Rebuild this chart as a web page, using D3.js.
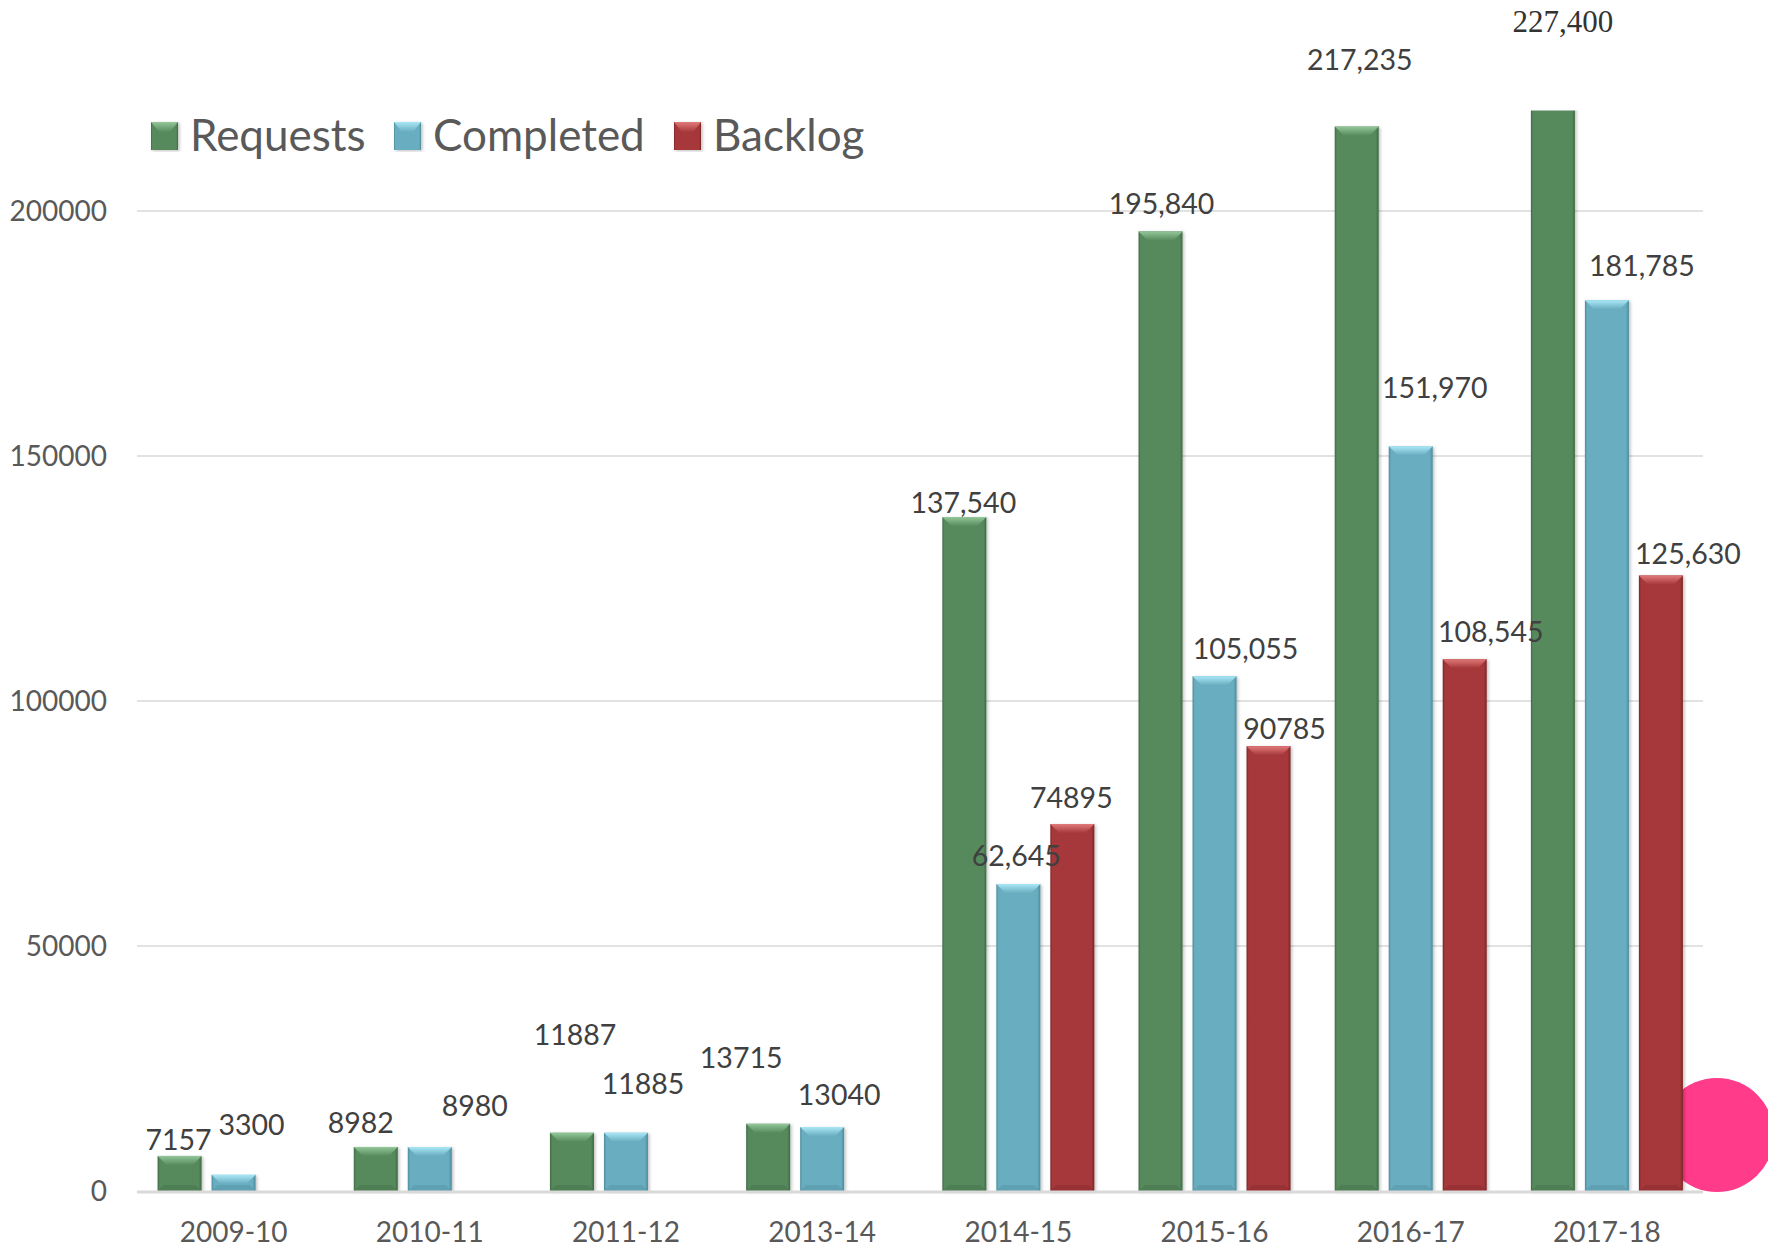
<!DOCTYPE html>
<html>
<head>
<meta charset="UTF-8">
<title>Requests, Completed, Backlog</title>
<script src="https://d3js.org/d3.v7.min.js"></script>
<style>
  body { margin: 0; background: #fff; }
  svg { display: block; }
  .tick-label { fill: #595959; font-family: Lato, "Open Sans", sans-serif; font-size: 28px; }
  .value-label { fill: #404040; font-family: Lato, "Open Sans", sans-serif; font-size: 28.5px; }
  .value-label.serif { font-family: "Liberation Serif", "DejaVu Serif", serif; font-size: 31px; fill: #333; }
  .legend-label { fill: #595959; font-family: Lato, "Open Sans", sans-serif; font-size: 44px; }
</style>
</head>
<body>
<svg width="1768" height="1253"></svg>
<script>
// data
var years = ["2009-10", "2010-11", "2011-12", "2013-14", "2014-15", "2015-16", "2016-17", "2017-18"];
var seriesNames = ["Requests", "Completed", "Backlog"];
var requests  = [7157, 8982, 11887, 13715, 137540, 195840, 217235, 227400];
var completed = [3300, 8980, 11885, 13040, 62645, 105055, 151970, 181785];
var backlog   = [null, null, null, null, 74895, 90785, 108545, 125630];
var requestLabels   = ["7157", "8982", "11887", "13715", "137,540", "195,840", "217,235", "227,400"];
var completedLabels = ["3300", "8980", "11885", "13040", "62,645", "105,055", "151,970", "181,785"];
var backlogLabels   = ["", "", "", "", "74895", "90785", "108,545", "125,630"];
var yTicks = [0, 50000, 100000, 150000, 200000];

// hand-placed label nudges (dx, dy from bar centre / bar top), as in the original
var requestNudge   = [[-1,-16],[-15,-24],[3,-98],[-27,-66],[-1,-14],[1,-27],[3,-67],[10,-56]];
var completedNudge = [[18,-50],[45,-41],[17,-49],[17,-32],[-2,-28],[31,-27],[24,-58],[35,-34]];
var backlogNudge   = [[0,0],[0,0],[0,0],[0,0],[-1,-26],[16,-17],[26,-27],[27,-21]];

var colors = {
  Requests:  { base: "#578a5d", dark: "#3f6a45", light: "#93c79a" },
  Completed: { base: "#69adc0", dark: "#4d8a9c", light: "#a9e7f6" },
  Backlog:   { base: "#a6393a", dark: "#7c2526", light: "#e27a7a" }
};

var svg = d3.select("svg");
var margin = { left: 135.5, right: 1705, top: 110.5, bottom: 1191 };

var x = d3.scaleBand().domain(years).range([margin.left, margin.right]).padding(0);
var xs = d3.scaleBand().domain(seriesNames).range([-76, 76]).paddingInner(10 / 54);
var y = d3.scaleLinear().domain([0, 200000]).range([margin.bottom, 211]);

var defs = svg.append("defs");
defs.append("clipPath").attr("id", "plot")
  .append("rect").attr("x", 0).attr("y", margin.top).attr("width", 1768).attr("height", 1253);
var sh = defs.append("filter").attr("id", "shadow").attr("x", "-20%").attr("y", "-5%").attr("width", "140%").attr("height", "110%");
sh.append("feDropShadow").attr("dx", 1.5).attr("dy", 1).attr("stdDeviation", 1.5).attr("flood-color", "#000").attr("flood-opacity", 0.25);
seriesNames.forEach(function (s) {
  var g = defs.append("linearGradient").attr("id", "side-" + s).attr("x1", 0).attr("x2", 1).attr("y1", 0).attr("y2", 0);
  g.append("stop").attr("offset", "0%").attr("stop-color", colors[s].dark);
  g.append("stop").attr("offset", "5%").attr("stop-color", colors[s].base);
  g.append("stop").attr("offset", "93%").attr("stop-color", colors[s].base);
  g.append("stop").attr("offset", "100%").attr("stop-color", colors[s].dark);
  var t = defs.append("linearGradient").attr("id", "top-" + s).attr("x1", 0).attr("x2", 0).attr("y1", 0).attr("y2", 1);
  t.append("stop").attr("offset", "0%").attr("stop-color", colors[s].light);
  t.append("stop").attr("offset", "100%").attr("stop-color", colors[s].base);
});

// gridlines
svg.append("g").selectAll("line").data(yTicks.slice(1)).join("line")
  .attr("x1", 137).attr("x2", 1703)
  .attr("y1", d => y(d)).attr("y2", d => y(d))
  .attr("stroke", "#d9d9d9").attr("stroke-width", 1.5);

// pink dot sits behind the bars
svg.append("circle").attr("cx", 1717).attr("cy", 1135).attr("r", 57).attr("fill", "#ff3b8a");

// y labels
svg.append("g").selectAll("text").data(yTicks).join("text")
  .attr("class", "tick-label")
  .attr("x", 107).attr("y", d => y(d)).attr("dy", "0.35em")
  .attr("text-anchor", "end")
  .text(d => d);

// bars
var rows = [];
years.forEach(function (yr, i) {
  [[requests, requestLabels, requestNudge], [completed, completedLabels, completedNudge], [backlog, backlogLabels, backlogNudge]]
    .forEach(function (arr, k) {
      if (arr[0][i] == null) return;
      rows.push({ year: yr, series: seriesNames[k], value: arr[0][i], label: arr[1][i], nudge: arr[2][i] });
    });
});

var bw = xs.bandwidth();
var bars = svg.append("g").attr("clip-path", "url(#plot)")
  .selectAll("g").data(rows).join("g")
  .attr("transform", d => "translate(" + (x(d.year) + x.bandwidth() / 2 + xs(d.series)) + ",0)");

bars.append("rect")
  .attr("x", 0).attr("width", bw)
  .attr("y", d => y(d.value)).attr("height", d => y(0) - y(d.value))
  .attr("fill", d => "url(#side-" + d.series + ")")
  .attr("filter", "url(#shadow)");
var bev = 9;
bars.append("path")
  .attr("d", d => {
    var t = y(d.value);
    return "M0," + t + "H" + bw + "L" + (bw - bev) + "," + (t + bev) + "H" + bev + "Z";
  })
  .attr("fill", d => "url(#top-" + d.series + ")");
// faint bottom bevel
bars.append("path")
  .attr("d", d => {
    var b = y(0), h = Math.min(6, y(0) - y(d.value));
    return "M0," + b + "H" + bw + "L" + (bw - h) + "," + (b - h) + "H" + h + "Z";
  })
  .attr("fill", d => colors[d.series].dark).attr("opacity", 0.35);

// baseline
svg.append("line").attr("x1", 137).attr("x2", 1703).attr("y1", y(0) + 1).attr("y2", y(0) + 1)
  .attr("stroke", "#d9d9d9").attr("stroke-width", 3);

// x labels
svg.append("g").selectAll("text").data(years).join("text")
  .attr("class", "tick-label")
  .attr("x", d => x(d) + x.bandwidth() / 2).attr("y", 1232).attr("dy", "0.35em")
  .attr("text-anchor", "middle")
  .text(d => d);

// value labels
svg.append("g").selectAll("text").data(rows).join("text")
  .attr("class", d => d.label === "227,400" ? "value-label serif" : "value-label")
  .attr("x", d => x(d.year) + x.bandwidth() / 2 + xs(d.series) + bw / 2 + d.nudge[0])
  .attr("y", d => y(d.value) + d.nudge[1]).attr("dy", "0.35em")
  .attr("text-anchor", "middle")
  .text(d => d.label);

// legend
var legendX = [151, 394, 674];
var leg = svg.append("g").selectAll("g").data(seriesNames).join("g")
  .attr("transform", (d, i) => "translate(" + legendX[i] + ",122)");
leg.append("rect").attr("width", 27).attr("height", 28)
  .attr("fill", d => "url(#side-" + d + ")").attr("filter", "url(#shadow)");
leg.append("path").attr("d", "M0,0H27L19,10H8Z").attr("fill", d => "url(#top-" + d + ")");
leg.append("text").attr("class", "legend-label")
  .attr("x", 39).attr("y", 14).attr("dy", "0.35em")
  .text(d => d);
</script>
</body>
</html>
